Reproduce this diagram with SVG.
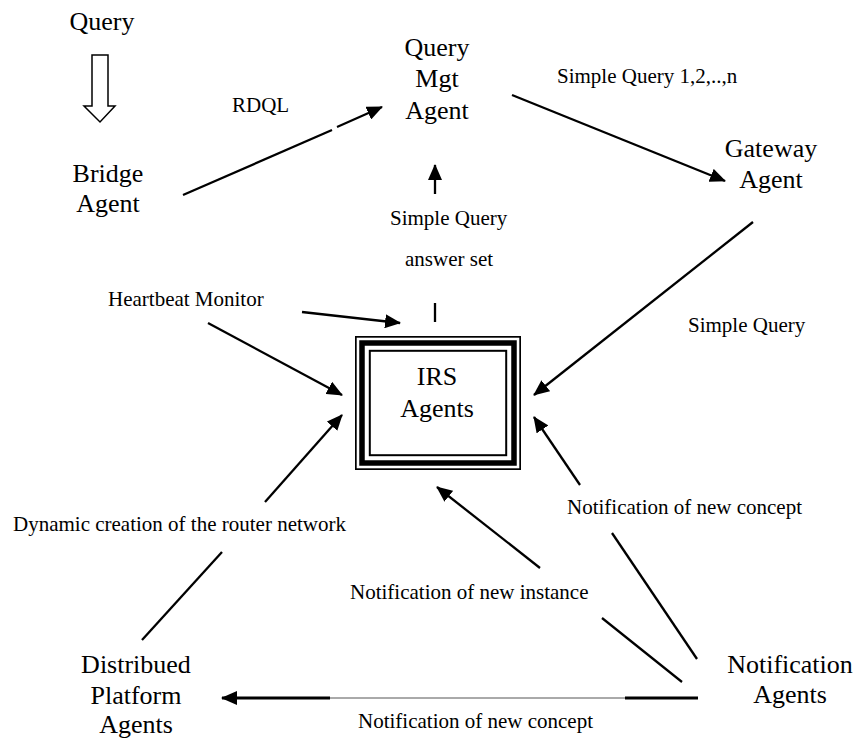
<svg xmlns="http://www.w3.org/2000/svg" width="859" height="740" viewBox="0 0 859 740">
<style>
text{font-family:"Liberation Serif","Times New Roman",serif;fill:#000}
.node{font-size:26px;text-anchor:middle}
.lbl{font-size:21px}
.c{fill:none;stroke:#000;stroke-width:2.3}
.a{marker-end:url(#ah)}
</style>
<defs>
<marker id="ah" markerUnits="userSpaceOnUse" markerWidth="16" markerHeight="14" viewBox="0 0 16 14" refX="15" refY="7" orient="auto">
<path d="M0,0 L16,7 L0,14 z" fill="#000"/>
</marker>
</defs>
<rect width="859" height="740" fill="#fff"/>

<g id="connectors">
<polygon points="92,55 108,55 108,106 115,106 100,122 84,106 92,106" fill="#fff" stroke="#000" stroke-width="1.5"/>
<line class="c" x1="183" y1="195" x2="332" y2="130"/>
<line class="c a" x1="337" y1="127" x2="382" y2="107"/>
<line class="c a" x1="512" y1="95" x2="725" y2="181"/>
<line class="c a" x1="435" y1="194" x2="435" y2="165"/>
<line class="c" x1="435" y1="303" x2="435" y2="322"/>
<line class="c a" x1="753" y1="222" x2="534" y2="395"/>
<line class="c a" x1="302" y1="312" x2="400" y2="323"/>
<line class="c a" x1="208" y1="323" x2="342" y2="395"/>
<line class="c a" x1="265" y1="502" x2="342" y2="415"/>
<line class="c" x1="142" y1="640" x2="222" y2="552"/>
<line class="c a" x1="580" y1="485" x2="534" y2="417"/>
<line class="c" x1="697" y1="659" x2="612" y2="533"/>
<line class="c a" x1="540" y1="568" x2="437" y2="487"/>
<line class="c" x1="682" y1="682" x2="602" y2="618"/>
<line class="c" x1="698" y1="698" x2="625" y2="698" style="stroke-width:3"/>
<line x1="625" y1="698" x2="330" y2="698" stroke="#555" stroke-width="1"/>
<line class="c a" x1="330" y1="698" x2="222" y2="698" style="stroke-width:3"/>
</g>

<g id="query"><text class="node" x="102" y="30">Query</text></g>
<g id="query-mgt-agent">
<text class="node" x="437" y="56">Query</text>
<text class="node" x="437" y="87">Mgt</text>
<text class="node" x="437" y="119">Agent</text>
</g>
<g id="bridge-agent">
<text class="node" x="108" y="182">Bridge</text>
<text class="node" x="108" y="212">Agent</text>
</g>
<g id="gateway-agent">
<text class="node" x="771" y="157">Gateway</text>
<text class="node" x="771" y="188">Agent</text>
</g>
<g id="irs-agents">
<rect x="355.85" y="336.85" width="164.3" height="132.3" fill="none" stroke="#000" stroke-width="1.7"/>
<rect x="362" y="343" width="152" height="120" fill="none" stroke="#000" stroke-width="5.5"/>
<rect x="369.8" y="350.8" width="136.4" height="104.4" fill="none" stroke="#000" stroke-width="2"/>
<text class="node" x="437" y="385">IRS</text>
<text class="node" x="437" y="417">Agents</text>
</g>
<g id="distributed-platform-agents">
<text class="node" x="136" y="673">Distribued</text>
<text class="node" x="136" y="704">Platform</text>
<text class="node" x="136" y="733">Agents</text>
</g>
<g id="notification-agents">
<text class="node" x="790" y="673">Notification</text>
<text class="node" x="790" y="703">Agents</text>
</g>

<g id="labels">
<text class="lbl" x="232" y="112">RDQL</text>
<text class="lbl" x="557" y="83">Simple Query 1,2,..,n</text>
<text class="lbl" x="390" y="225">Simple Query</text>
<text class="lbl" x="405" y="266">answer set</text>
<text class="lbl" x="108" y="306">Heartbeat Monitor</text>
<text class="lbl" x="688" y="332">Simple Query</text>
<text class="lbl" x="13" y="531">Dynamic creation of the router network</text>
<text class="lbl" x="567" y="514">Notification of new concept</text>
<text class="lbl" x="350" y="599">Notification of new instance</text>
<text class="lbl" x="358" y="728">Notification of new concept</text>
</g>
</svg>
